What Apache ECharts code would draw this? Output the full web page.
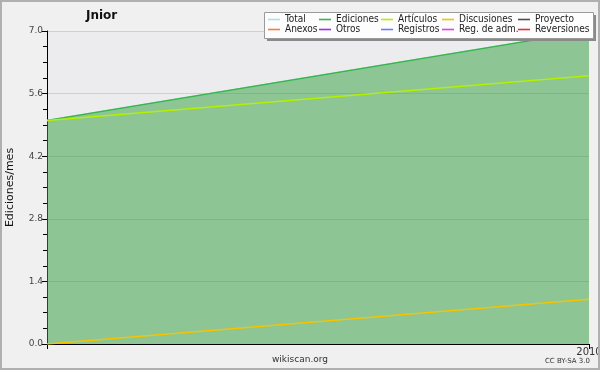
<!DOCTYPE html>
<html><head><meta charset="utf-8">
<script src="https://cdn.jsdelivr.net/npm/echarts@6/dist/echarts.min.js"></script>
<style>html,body{margin:0;padding:0;background:#f0f0f0}#c{width:600px;height:370px}</style>
</head><body><div id="c"></div>
<script>
var categories = ['2009-12', '2010-01'];
var xTickLabels = ['', '2010'];
var seriesNames = ['Total','Ediciones','Artículos','Discusiones','Proyecto','Anexos','Otros','Registros','Reg. de adm.','Reversiones'];
var seriesColors = ['#a8e4e4','#3cb44a','#b4f000','#f5c400','#505050','#f08040','#9a30e8','#6c7cf4','#e040e8','#e83030'];
var total = [5, 7];
var ediciones = [5, 7];
var articulos = [5, 6];
var discusiones = [0, 1];
var proyecto = [];
var anexos = [];
var otros = [];
var registros = [];
var regAdm = [];
var reversiones = [];
var dataByName = [total, ediciones, articulos, discusiones, proyecto, anexos, otros, registros, regAdm, reversiones];

var font = 'DejaVu Sans';
var series = seriesNames.map(function(n, i){
  var s = {name: n, type: 'line', data: dataByName[i], symbol: 'none', silent: true,
    lineStyle: {color: seriesColors[i], width: 1.5}, itemStyle: {color: seriesColors[i]}, z: 2};
  if (n === 'Ediciones') s.areaStyle = {color: 'rgba(46,160,58,0.5)', opacity: 1};
  return s;
});

var legendCols = [268, 319, 381, 442, 518];
var legendRows = [19.5, 29.5];
var legendGraphics = [];
seriesNames.forEach(function(n, k){
  var x = legendCols[k % 5], y = legendRows[Math.floor(k / 5)];
  legendGraphics.push({type: 'line', z: 10, silent: true,
    shape: {x1: x, y1: y, x2: x + 12, y2: y}, style: {stroke: seriesColors[k], lineWidth: 1.6}});
  legendGraphics.push({type: 'text', z: 10, silent: true, x: x + 17, y: y - 0.5,
    style: {text: n, font: '10px "DejaVu Sans Condensed"', fill: '#222', verticalAlign: 'middle', align: 'left'}});
});

var chart = echarts.init(document.getElementById('c'), null, {renderer: 'canvas'});
chart.setOption({
  backgroundColor: '#f0f0f0',
  animation: false,
  title: {text: 'Jnior', left: 86, top: 10, padding: 0,
    textStyle: {fontFamily: font, fontWeight: 'bold', fontSize: 12, color: '#111'}},
  grid: {left: 47, right: 11, top: 31, bottom: 26, show: true, backgroundColor: '#ececee', borderWidth: 0,
    containLabel: false, outerBoundsMode: 'none'},
  xAxis: {type: 'category', data: categories, boundaryGap: false,
    axisLine: {lineStyle: {color: '#000', width: 1}},
    axisTick: {show: true, length: 5, lineStyle: {color: '#000'}},
    axisLabel: {interval: 0, margin: 3, fontFamily: font, fontSize: 10, color: '#333',
      formatter: function(v, i){ return xTickLabels[i]; }},
    splitLine: {show: false}},
  yAxis: {type: 'value', min: 0, max: 7, interval: 1.4,
    name: 'Ediciones/mes', nameLocation: 'middle', nameGap: 31,
    nameTextStyle: {fontFamily: font, fontSize: 11, color: '#111'},
    axisLine: {show: true, lineStyle: {color: '#000', width: 1}},
    axisTick: {show: true, length: 5, lineStyle: {color: '#000'}},
    minorTick: {show: true, splitNumber: 4, length: 4, lineStyle: {color: '#000'}},
    axisLabel: {margin: 4, fontFamily: font, fontSize: 9, color: '#444',
      formatter: function(v){ return v.toFixed(1); }},
    splitLine: {show: true, lineStyle: {color: '#cfcfcf', width: 1}}},
  series: series,
  graphic: [
    {type: 'rect', z: 3, shape: {x: 267, y: 15, width: 329, height: 26}, style: {fill: '#8a8a8a'}},
    {type: 'rect', z: 3, shape: {x: 264.5, y: 12.5, width: 329, height: 26}, style: {fill: '#fdfdfd', stroke: '#9a9a9a', lineWidth: 1}},
    {type: 'text', z: 5, left: 'center', top: 355, style: {text: 'wikiscan.org', font: '9px "DejaVu Sans"', fill: '#333'}},
    {type: 'text', z: 5, right: 10, top: 358, style: {text: 'CC BY-SA 3.0', font: '7px "DejaVu Sans"', fill: '#333'}},
    {type: 'rect', z: 20, silent: true, shape: {x: 1, y: 1, width: 598, height: 368}, style: {fill: 'none', stroke: '#b0b0b0', lineWidth: 2}}
  ].concat(legendGraphics)
});
</script></body></html>
